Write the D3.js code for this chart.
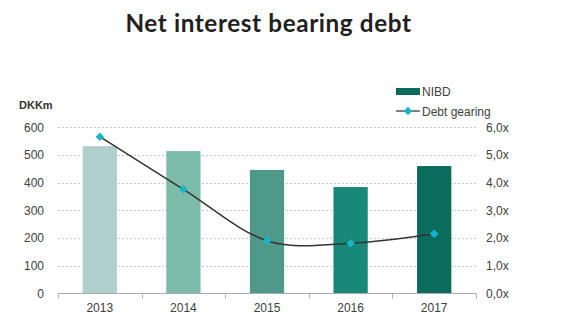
<!DOCTYPE html>
<html><head><meta charset="utf-8">
<script src="https://cdn.jsdelivr.net/npm/d3@7"></script>
<style>body{margin:0;background:#fff}svg{display:block}</style>
</head><body>
<script>
const years = ["2013","2014","2015","2016","2017"];
const nibd = [532, 514, 446, 384, 460];
const gearing = [5.66, 3.76, 1.90, 1.81, 2.15];
const leftTicks = [0,100,200,300,400,500,600];
const rightTicks = [0,1,2,3,4,5,6];
const barColors = ["#b0d0cd","#7dbbab","#4f998a","#17887a","#0a6c5d"];

const W=585,H=315;
const svg=d3.select("body").append("svg").attr("width",W).attr("height",H);
const x0=58,x1=476,yTop=127.3,yBot=293.3;
const x=d3.scaleBand().domain(years).range([x0,x1]).paddingInner(0.59).paddingOuter(0.295);
const xb=d3.scaleBand().domain(years).range([x0,x1]);
const yL=d3.scaleLinear().domain([0,600]).range([yBot,yTop]);
const yR=d3.scaleLinear().domain([0,6]).range([yBot,yTop]);
const font="Liberation Sans, Arial, sans-serif";

svg.append("text").attr("x",268.5).attr("y",32).attr("text-anchor","middle")
 .attr("font-family","Lato, sans-serif").attr("font-weight",700).attr("font-size",24.3)
 .attr("letter-spacing",0.6)
 .attr("fill","#231f20").text("Net interest bearing debt");

// grid
svg.append("g").selectAll("line").data(leftTicks.filter(d=>d>0)).join("line")
 .attr("x1",x0).attr("x2",x1).attr("y1",d=>Math.round(yL(d))+0.5).attr("y2",d=>Math.round(yL(d))+0.5)
 .attr("stroke","#c8c8c8").attr("stroke-dasharray","2,2").attr("stroke-width",1);

// bars
svg.append("g").selectAll("rect").data(years).join("rect")
 .attr("x",d=>x(d)).attr("width",x.bandwidth())
 .attr("y",(d,i)=>yL(nibd[i])).attr("height",(d,i)=>yBot-yL(nibd[i]))
 .attr("fill",(d,i)=>barColors[i]);

// x axis
const xAxis=svg.append("g").attr("transform",`translate(0,${Math.round(yBot)+0.5})`);
xAxis.append("line").attr("x1",x0).attr("x2",x1).attr("stroke","#aaa");
xAxis.selectAll("line.t").data(years.map(d=>xb(d)).concat([x1])).join("line").attr("class","t")
 .attr("x1",d=>Math.round(d)+0.5).attr("x2",d=>Math.round(d)+0.5).attr("y1",0).attr("y2",5).attr("stroke","#aaa");
xAxis.selectAll("text").data(years).join("text")
 .attr("x",d=>xb(d)+xb.bandwidth()/2).attr("y",18).attr("text-anchor","middle")
 .attr("font-family",font).attr("font-size",12).attr("fill","#404040").text(d=>d);

// left axis
svg.append("g").selectAll("text").data(leftTicks).join("text")
 .attr("x",44).attr("y",d=>yL(d)+4.3).attr("text-anchor","end")
 .attr("font-family",font).attr("font-size",12).attr("fill","#404040").text(d=>d);
svg.append("text").attr("x",19).attr("y",109).attr("font-family",font).attr("font-weight",700)
 .attr("font-size",11).attr("fill","#333").text("DKKm");

// right axis
svg.append("g").selectAll("text").data(rightTicks).join("text")
 .attr("x",486).attr("y",d=>yR(d)+4.3).attr("text-anchor","start")
 .attr("font-family",font).attr("font-size",12).attr("fill","#404040").text(d=>d.toFixed(1).replace(".",",")+"x");

// line
const line=d3.line().x((d,i)=>xb(years[i])+xb.bandwidth()/2).y(d=>yR(d)).curve(d3.curveCardinal.tension(0));
svg.append("path").attr("d",line(gearing)).attr("fill","none").attr("stroke","#333").attr("stroke-width",1.5);
svg.append("g").selectAll("path").data(gearing).join("path")
 .attr("transform",(d,i)=>`translate(${xb(years[i])+xb.bandwidth()/2},${yR(d)}) rotate(45)`)
 .attr("d",d3.symbol().type(d3.symbolSquare).size(36)).attr("fill","#17b6c9");

// legend
svg.append("rect").attr("x",396).attr("y",88).attr("width",24).attr("height",7).attr("fill",barColors[4]);
svg.append("text").attr("x",422).attr("y",95.5).attr("font-family",font).attr("font-size",12).attr("fill","#404040").text("NIBD");
svg.append("line").attr("x1",396).attr("x2",420).attr("y1",111).attr("y2",111).attr("stroke","#555").attr("stroke-width",1.5);
svg.append("path").attr("transform","translate(408,111) rotate(45)").attr("d",d3.symbol().type(d3.symbolSquare).size(36)).attr("fill","#17b6c9");
svg.append("text").attr("x",422).attr("y",115.5).attr("font-family",font).attr("font-size",12).attr("fill","#404040").text("Debt gearing");
</script>
</body></html>
